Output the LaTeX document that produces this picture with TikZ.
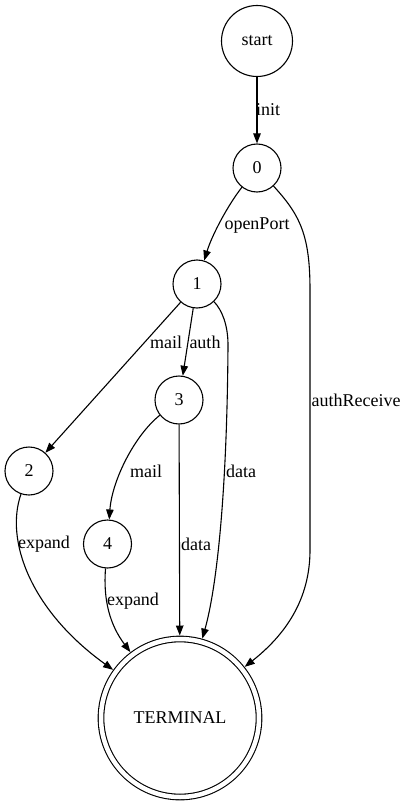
\documentclass[tikz,border=0pt]{standalone}
\usepackage{fontspec}
\setmainfont{Liberation Serif}
\usetikzlibrary{arrows.meta}
\tikzset{
  state/.style={circle, draw, line width=1.1pt, minimum size=48pt, inner sep=0pt},
  final/.style={state, double, double distance=4.5pt, minimum size=158pt, outer sep=3.5pt},
  trans/.style={line width=1.1pt, -{Triangle[length=10pt,width=7.5pt]}},
  lbl/.style={inner sep=1pt}
}
\begin{document}
\begin{tikzpicture}[x=1pt,y=-1pt,every node/.style={font=\fontsize{18}{20}\selectfont}]
        \useasboundingbox (0,0) rectangle (407,805);
        % states
        \node[state, minimum size=71pt] (start) at (257,41) {start};
        \node[state] (n0) at (257,168) {0};
        \node[state] (n1) at (197,284) {1};
        \node[state] (n3) at (179,400) {3};
        \node[state] (n2) at (29,471) {2};
        \node[state] (n4) at (107.5,544) {4};
        \node[final] (term) at (180,718) {TERMINAL};
        % transitions
        \draw[trans] (start) -- (n0);
        \draw[trans] (n0) .. controls (228,205) and (212,235) .. (n1);
        \draw[trans] (n0) .. controls (300,215) and (310,235) .. (310,290) -- (310,550) .. controls (310,600) and (285,635) .. (term);
        \draw[trans] (n1) -- (n2);
        \draw[trans] (n1) -- (n3);
        \draw[trans] (n1) .. controls (222,310) and (228,325) .. (228,345) .. controls (227,500) and (216,590) .. (term);
        \draw[trans] (n3) .. controls (135,435) and (112,480) .. (n4);
        \draw[trans] (n3) -- (term);
        \draw[trans] (n2) .. controls (5,540) and (30,610) .. (term);
        \draw[trans] (n4) .. controls (103,600) and (110,625) .. (term);
        % labels
        \node[lbl] (linit) at (268,110) {init};
        \node[lbl] (lopen) at (257,226) {openPort};
        \node[lbl] (lmail1) at (166,342) {mail};
        \node[lbl] (lauth) at (205,342) {auth};
        \node[lbl] (lrecv) at (356,400) {authReceive};
        \node[lbl] (ldata1) at (241,471) {data};
        \node[lbl] (lmail2) at (146,471) {mail};
        \node[lbl] (lexp1) at (44,544) {expand};
        \node[lbl] (ldata2) at (196,544) {data};
        \node[lbl] (lexp2) at (133,601) {expand};
      \end{tikzpicture}
\end{document}
